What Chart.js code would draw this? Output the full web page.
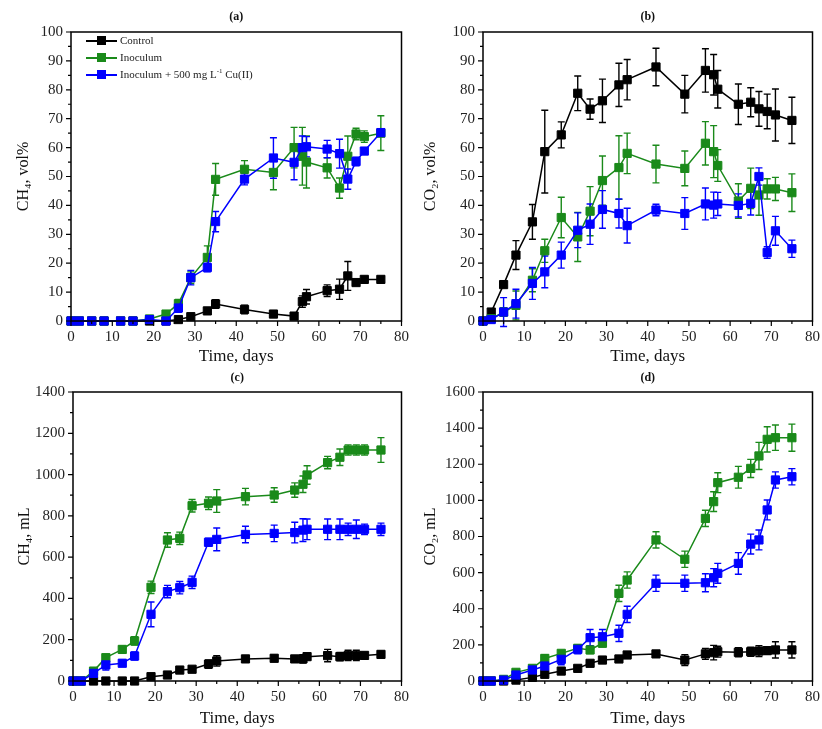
<!DOCTYPE html>
<html>
<head>
<meta charset="utf-8">
<script src="https://cdn.jsdelivr.net/npm/chart.js@4.4.1/dist/chart.umd.min.js"></script>
<style>
  html, body { margin: 0; padding: 0; background: #fff; }
  #wrap { position: relative; width: 822px; height: 729px; }
  canvas { position: absolute; }
  #legend { position: absolute; left: 86px; top: 32px; font-family: 'Liberation Serif', serif; font-size: 11px; color: #222; }
  .row { height: 17px; line-height: 17px; white-space: nowrap; }
  .sample { display: inline-block; position: relative; width: 31px; height: 17px; vertical-align: top; margin-right: 3px; }
  .sample .ln { position: absolute; left: 0; right: 0; top: 8px; height: 1.6px; }
  .sample .sq { position: absolute; left: 11px; top: 4px; width: 9px; height: 9px; }
  sup { font-size: 7px; line-height: 0; }
</style>
</head>
<body>
<div id="wrap">
  <canvas id="chartA" width="411" height="372" style="left:0;top:0"></canvas>
  <canvas id="chartB" width="411" height="372" style="left:411px;top:0"></canvas>
  <canvas id="chartC" width="411" height="365" style="left:0;top:364px"></canvas>
  <canvas id="chartD" width="411" height="365" style="left:411px;top:364px"></canvas>
  <div id="legend"></div>
</div>
<script>
// sampling days
const days = [0, 2, 5, 8, 12, 15, 19, 23, 26, 29, 33, 35, 42, 49, 54, 56, 57, 62, 65, 67, 69, 71, 75];
const seriesNames = ['Control', 'Inoculum', 'Inoculum + 500 mg L<sup>-1</sup> Cu(II)'];

// (a) CH4 vol%
const ch4PctControl = [0, 0, 0, 0, 0, 0, 0, 0, 0.5, 1.5, 3.5, 5.9, 4.0, 2.4, 1.7, 6.7, 8.4, 10.5, 11, 15.6, 13.3, 14.4, 14.4];
const ch4PctControlErr = [0, 0, 0, 0, 0, 0, 0, 0, 0.5, 0.5, 1, 1.5, 1.5, 0.5, 0.5, 2, 2.5, 2, 3.5, 5, 1, 1, 1];
const ch4PctInoc = [0, 0, 0, 0, 0, 0, 0.7, 2.4, 6, 15, 22, 49, 52.5, 51.4, 60, 57, 55, 53, 46, 57, 64.7, 63.8, 65];
const ch4PctInocErr = [0, 0, 0, 0, 0, 0, 0.5, 1, 1.5, 2, 4, 5.5, 3, 6, 7, 10, 9, 3.5, 3.5, 7, 2, 2, 6];
const ch4PctCu = [0, 0, 0, 0, 0, 0, 0.5, 0, 4.5, 15, 18.5, 34.4, 49.1, 56.4, 54.9, 60, 60.3, 59.5, 57.9, 49.1, 55.2, 58.8, 65.2];
const ch4PctCuErr = [0, 0, 0, 0, 0, 0, 0.3, 0.3, 1.5, 2.5, 1.5, 3.5, 2, 7, 6, 4, 3.5, 3, 5, 3.5, 1.5, 1, 1];

// (b) CO2 vol%
const co2PctControl = [0, 3.1, 12.6, 22.8, 34.3, 58.6, 64.4, 78.8, 73.3, 76.2, 81.7, 83.5, 87.9, 78.5, 86.7, 85.2, 80.2, 75, 75.7, 73.4, 72.5, 71.3, 69.4];
const co2PctControlErr = [0, 1, 1, 5, 6, 14.3, 4.5, 6, 3.5, 7.5, 7.5, 7, 6.5, 6.5, 7.5, 7, 6.5, 7, 5, 6, 6, 9, 8];
const co2PctInoc = [0, 0.8, 3.1, 5.4, 14.1, 24.3, 35.8, 29.1, 38, 48.6, 53.1, 58, 54.3, 52.8, 61.5, 58.6, 53.8, 41.5, 45.9, 43.6, 45.7, 45.7, 44.4];
const co2PctInocErr = [0, 0.5, 1.5, 5, 4, 4, 7, 8.5, 8.5, 8.5, 11, 7, 6.5, 6, 7.5, 9, 5.5, 6, 7, 7, 3.5, 4, 6.5];
const co2PctCu = [0, 0.5, 3.1, 6, 13, 17, 22.8, 31.4, 33.5, 38.6, 37.2, 33, 38.4, 37.2, 40.5, 40.1, 40.5, 40, 40.7, 50, 23.7, 31.2, 25];
const co2PctCuErr = [0, 0.5, 5, 5, 5.5, 5.5, 4.5, 6, 7, 6.5, 5, 6, 2, 5.5, 5.5, 4.5, 4, 4, 4, 3, 2, 5, 3];

// (c) CH4 mL
const ch4MlControl = [0, 0, 0, 0, 0, 0, 21, 29, 53, 57, 82, 97, 107, 110, 107, 107, 118, 123, 118, 124, 124, 124, 129];
const ch4MlControlErr = [0, 0, 0, 0, 0, 0, 5, 8, 10, 10, 20, 25, 15, 15, 15, 20, 15, 30, 20, 25, 25, 15, 15];
const ch4MlInoc = [0, 0, 48, 113, 153, 194, 454, 683, 691, 849, 861, 872, 893, 901, 925, 953, 998, 1058, 1084, 1119, 1119, 1119, 1119];
const ch4MlInocErr = [0, 0, 5, 15, 15, 20, 30, 35, 30, 30, 30, 55, 40, 35, 35, 40, 45, 30, 40, 25, 25, 25, 60];
const ch4MlCu = [0, 0, 37, 78, 86, 121, 323, 433, 452, 478, 672, 686, 710, 715, 719, 731, 735, 735, 735, 735, 735, 735, 735];
const ch4MlCuErr = [0, 0, 5, 25, 15, 20, 60, 30, 30, 30, 20, 55, 40, 40, 50, 55, 50, 50, 50, 30, 45, 25, 30];

// (d) CO2 mL
const co2MlControl = [0, 0, 0, 5, 20, 37, 55, 70, 98, 116, 122, 144, 150, 116, 150, 157, 162, 159, 162, 166, 168, 172, 172];
const co2MlControlErr = [0, 0, 0, 5, 10, 10, 10, 10, 15, 15, 15, 15, 15, 30, 30, 40, 30, 25, 25, 30, 20, 45, 45];
const co2MlInoc = [0, 0, 9, 48, 70, 125, 153, 181, 172, 209, 485, 559, 781, 674, 900, 993, 1098, 1128, 1177, 1246, 1338, 1347, 1347];
const co2MlInocErr = [0, 0, 5, 10, 10, 20, 15, 20, 20, 20, 45, 45, 45, 45, 45, 55, 55, 60, 50, 75, 70, 70, 75];
const co2MlCu = [0, 0, 5, 33, 61, 83, 120, 175, 240, 245, 264, 369, 541, 541, 544, 572, 596, 651, 758, 781, 947, 1113, 1131];
const co2MlCuErr = [0, 0, 5, 10, 15, 15, 30, 25, 45, 40, 45, 45, 45, 45, 50, 50, 55, 60, 55, 55, 55, 45, 45];

const SERIF = "'Liberation Serif', 'DejaVu Serif', serif";
const colors = ['#000000', '#1a8a1a', '#0000ff'];

// error bars + box frame + tick marks (major/minor)
const framePlugin = {
    id: 'frame',
    beforeDatasetsDraw(chart) {
        const ctx = chart.ctx;
        const ys = chart.scales.y;
        ctx.save();
        ctx.lineWidth = 1.4;
        chart.data.datasets.forEach((ds, i) => {
            const meta = chart.getDatasetMeta(i);
            ctx.strokeStyle = ds.borderColor;
            meta.data.forEach((pt, j) => {
                const e = ds.errors[j];
                if (!e) return;
                const v = ds.data[j].y;
                const top = ys.getPixelForValue(v + e);
                const bot = ys.getPixelForValue(v - e);
                ctx.beginPath();
                ctx.moveTo(pt.x, top); ctx.lineTo(pt.x, bot);
                ctx.moveTo(pt.x - 3.5, top); ctx.lineTo(pt.x + 3.5, top);
                ctx.moveTo(pt.x - 3.5, bot); ctx.lineTo(pt.x + 3.5, bot);
                ctx.stroke();
            });
        });
        ctx.restore();
    },
    afterDraw(chart) {
        const {ctx, chartArea: a, scales} = chart;
        ctx.save();
        ctx.strokeStyle = '#000';
        ctx.lineWidth = 1.5;
        ctx.strokeRect(a.left, a.top, a.right - a.left, a.bottom - a.top);
        ctx.lineWidth = 1.2;
        ctx.beginPath();
        scales.x.ticks.forEach(t => {
            const px = scales.x.getPixelForValue(t.value);
            const len = t.label !== '' ? 5 : 3;
            ctx.moveTo(px, a.bottom); ctx.lineTo(px, a.bottom + len);
        });
        scales.y.ticks.forEach(t => {
            const py = scales.y.getPixelForValue(t.value);
            const len = t.label !== '' ? 5 : 3;
            ctx.moveTo(a.left, py); ctx.lineTo(a.left - len, py);
        });
        ctx.stroke();
        ctx.restore();
    }
};

function makeSet(name, idx, values, errs) {
    return {
        label: name,
        data: days.map((d, i) => ({x: d, y: values[i]})),
        errors: errs,
        borderColor: colors[idx],
        backgroundColor: colors[idx],
        borderWidth: 1.5,
        pointStyle: 'rect',
        pointRadius: 5.8,
        pointBorderWidth: 1,
        pointBackgroundColor: colors[idx],
        pointBorderColor: colors[idx],
        tension: 0,
        clip: false,
        order: 3 - idx
    };
}

function drawPanel(id, cfg) {
    new Chart(document.getElementById(id), {
        type: 'line',
        data: {
            datasets: [
                makeSet('Control', 0, cfg.series[0], cfg.errors[0]),
                makeSet('Inoculum', 1, cfg.series[1], cfg.errors[1]),
                makeSet('Inoculum + 500 mg L-1 Cu(II)', 2, cfg.series[2], cfg.errors[2])
            ]
        },
        options: {
            responsive: false,
            animation: false,
            layout: { padding: { left: 0, right: cfg.padRight, top: 0, bottom: 0 } },
            plugins: {
                legend: { display: false },
                tooltip: { enabled: false },
                title: {
                    display: true,
                    text: cfg.title,
                    fullSize: false,
                    color: '#111',
                    font: { family: SERIF, size: 12, weight: 'bold' },
                    padding: { top: cfg.titleTop, bottom: cfg.titleBottom }
                }
            },
            scales: {
                x: {
                    type: 'linear',
                    min: 0,
                    max: 80,
                    grid: { display: false, drawTicks: true, tickLength: 5 },
                    border: { display: false },
                    ticks: {
                        stepSize: 5,
                        autoSkip: false,
                        maxRotation: 0,
                        padding: 2,
                        color: '#222',
                        font: { family: SERIF, size: 15 },
                        callback: v => (v % 10 === 0 ? v : '')
                    },
                    title: {
                        display: true,
                        text: 'Time, days',
                        color: '#111',
                        font: { family: SERIF, size: 17 },
                        padding: { top: 0, bottom: cfg.xTitlePad }
                    },
                    afterFit: s => { s.height = cfg.xHeight; }
                },
                y: {
                    min: 0,
                    max: cfg.yMax,
                    grid: { display: false, drawTicks: true, tickLength: 5 },
                    border: { display: false },
                    ticks: {
                        stepSize: cfg.yMajor / 2,
                        autoSkip: false,
                        padding: 3,
                        color: '#222',
                        font: { family: SERIF, size: 15 },
                        callback: v => (v % cfg.yMajor === 0 ? v : '')
                    },
                    title: {
                        display: true,
                        text: cfg.yTitle,
                        color: '#111',
                        font: { family: SERIF, size: 16 },
                        padding: { top: cfg.yTitlePad, bottom: 0 }
                    },
                    afterFit: s => { s.width = cfg.yWidth; }
                }
            }
        },
        plugins: [framePlugin]
    });
}

drawPanel('chartA', {
    title: '(a)', yTitle: 'CH\u2084, vol%', yMax: 100, yMajor: 10,
    series: [ch4PctControl, ch4PctInoc, ch4PctCu],
    errors: [ch4PctControlErr, ch4PctInocErr, ch4PctCuErr],
    yWidth: 71, xHeight: 51, padRight: 8, titleTop: 10, titleBottom: 7.6,
    xTitlePad: 4.8, yTitlePad: 14
});
drawPanel('chartB', {
    title: '(b)', yTitle: 'CO\u2082, vol%', yMax: 100, yMajor: 10,
    series: [co2PctControl, co2PctInoc, co2PctCu],
    errors: [co2PctControlErr, co2PctInocErr, co2PctCuErr],
    yWidth: 72, xHeight: 51, padRight: 9, titleTop: 10, titleBottom: 7.6,
    xTitlePad: 4.8, yTitlePad: 10
});
drawPanel('chartC', {
    title: '(c)', yTitle: 'CH\u2084, mL', yMax: 1400, yMajor: 200,
    series: [ch4MlControl, ch4MlInoc, ch4MlCu],
    errors: [ch4MlControlErr, ch4MlInocErr, ch4MlCuErr],
    yWidth: 73, xHeight: 48, padRight: 8, titleTop: 7, titleBottom: 6.6,
    xTitlePad: 0, yTitlePad: 15
});
drawPanel('chartD', {
    title: '(d)', yTitle: 'CO\u2082, mL', yMax: 1600, yMajor: 200,
    series: [co2MlControl, co2MlInoc, co2MlCu],
    errors: [co2MlControlErr, co2MlInocErr, co2MlCuErr],
    yWidth: 72, xHeight: 48, padRight: 9, titleTop: 7, titleBottom: 6.6,
    xTitlePad: 0, yTitlePad: 10
});

// legend inside panel (a), built from the series names
const legendEl = document.getElementById('legend');
seriesNames.forEach((name, i) => {
    const row = document.createElement('div');
    row.className = 'row';
    row.innerHTML = '<span class="sample"><span class="ln" style="background:' + colors[i] + '"></span>' +
        '<span class="sq" style="background:' + colors[i] + '"></span></span>' + name;
    legendEl.appendChild(row);
});
</script>
</body>
</html>
